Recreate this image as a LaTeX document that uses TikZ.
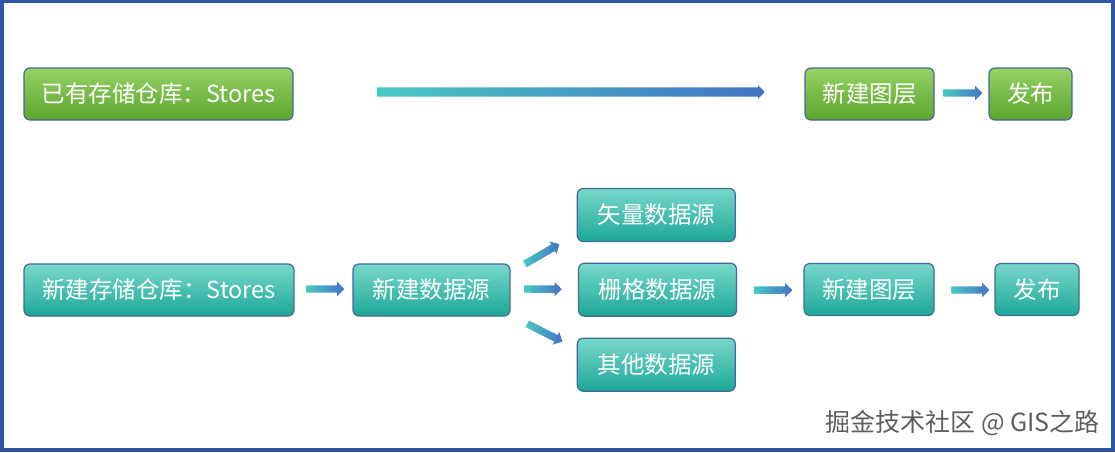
\documentclass[tikz,border=0pt]{standalone}
\usepackage{fontspec}
\setmainfont{Noto Sans CJK SC}
\usetikzlibrary{shapes.arrows,calc}
\definecolor{frameblue}{HTML}{2F55A5}
\definecolor{boxline}{HTML}{41699A}
\definecolor{gtop}{HTML}{96D266}
\definecolor{gbot}{HTML}{5CA42D}
\definecolor{ttop}{HTML}{78D8CC}
\definecolor{tbot}{HTML}{1CA796}
\definecolor{arl}{HTML}{49C8C2}
\definecolor{arr}{HTML}{4472C4}
\definecolor{wmgray}{HTML}{5E5E5E}
\tikzset{
  box/.style={rounded corners=6pt, draw=boxline, line width=1.2pt, inner sep=0pt,
    minimum height=52pt, text=white, font=\fontsize{23.5}{28}\selectfont},
  greenbox/.style={box, top color=gtop, bottom color=gbot},
  tealbox/.style={box, top color=ttop, bottom color=tbot},
  barrow/.style={single arrow, inner sep=0pt, text height=3.5pt, text depth=3.5pt,
    minimum width=14pt, single arrow head extend=3.5pt, single arrow head indent=0pt,
    left color=arl, right color=arr, draw=none},
}
\newcommand\blkarrow[3][]{\path let \p1=(#2), \p2=(#3), \n1={veclen(\x2-\x1,\y2-\y1)} in
  (\p1) -- (\p2) node[midway, sloped, barrow, minimum height=\n1, #1] {};}
\begin{document}
\begin{tikzpicture}[x=1pt,y=-1pt]
\useasboundingbox (0,0) rectangle (1115,452);
\draw[frameblue, line width=4pt] (2,1.5) rectangle (1113,450);

% top row
\node[greenbox, minimum width=269pt] (g1) at (158.5,94) {已有存储仓库：Stores};
\node[greenbox, minimum width=129pt] (g2) at (869.5,94) {新建图层};
\node[greenbox, minimum width=83pt] (g3) at (1030.5,94) {发布};

% bottom row
\node[tealbox, minimum width=270pt] (t1) at (159,290) {新建存储仓库：Stores};
\node[tealbox, minimum width=157pt] (t2) at (431.5,290) {新建数据源};
\node[tealbox, minimum width=158pt, minimum height=53pt] (t3) at (656.3,215) {矢量数据源};
\node[tealbox, minimum width=158pt, minimum height=53pt] (t4) at (657.5,289.7) {栅格数据源};
\node[tealbox, minimum width=158pt, minimum height=53pt] (t5) at (656.3,364.7) {其他数据源};
\node[tealbox, minimum width=130pt] (t6) at (869,289.5) {新建图层};
\node[tealbox, minimum width=84pt] (t7) at (1037,289.5) {发布};

% arrows
\blkarrow[text height=4.5pt, text depth=4.5pt, minimum width=13pt, single arrow head extend=2pt]{$(g1.east)+(81,-2)$}{$(g2.west)+(-42,-2)$}
\blkarrow{$(g2.east)+(7,-1)$}{$(g3.west)+(-8,-1)$}
\blkarrow{$(t1.east)+(10,-1)$}{$(t2.west)+(-10,-1)$}
\blkarrow{$(t2.east)+(12.7,-25)$}{$(t3.west)+(-19,30)$}
\blkarrow{$(t2.east)+(11.7,-1)$}{$(t4.west)+(-18,-0.5)$}
\blkarrow{$(t2.east)+(15,33)$}{$(t5.west)+(-16,-24)$}
\blkarrow{$(t4.east)+(15,0.5)$}{$(t6.west)+(-13,0.5)$}
\blkarrow{$(t6.east)+(15,0.5)$}{$(t7.west)+(-7,0.5)$}

% watermark
\node[text=wmgray, font=\fontsize{25}{30}\selectfont, anchor=east, inner sep=0pt] (wm) at (1100,423) {掘金技术社区 @ GIS之路};
\end{tikzpicture}
\end{document}
